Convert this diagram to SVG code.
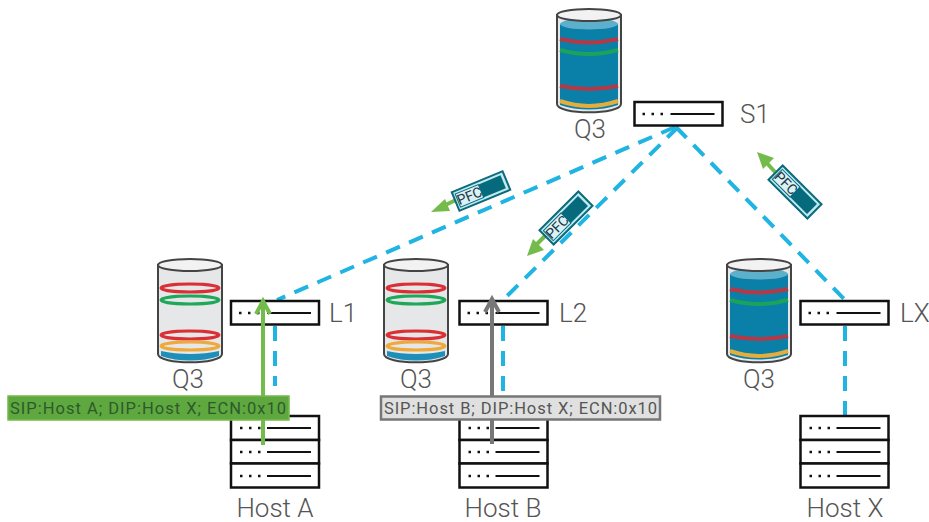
<svg xmlns="http://www.w3.org/2000/svg" width="929" height="522" viewBox="0 0 929 522">
<style>
text{font-family:Roboto,"Liberation Sans",sans-serif;font-weight:300;fill:#555}
.lab{font-size:26px}
.sw{fill:#fff;stroke:#111;stroke-width:2.5}
.ln{fill:none;stroke:#111;stroke-width:2}
.dots{fill:none;stroke:#111;stroke-width:2.5;stroke-dasharray:2.5 6.5}
.dash{fill:none;stroke:#1fb4e2;stroke-width:4;stroke-dasharray:15 10}
.cyl{fill:#e6e7e9;stroke:#444;stroke-width:2}
.top{fill:#f2f2f2;stroke:#444;stroke-width:2}
.o{fill:none;stroke-width:3}
.r{stroke:#d92f35}.g{stroke:#1fa85a}.y{stroke:#efa93a}
.fr{stroke:#b23a48;stroke-width:4;fill:none}.fg{stroke:#1aa35a;stroke-width:4;fill:none}.fy{stroke:#e5ad3c;stroke-width:4;fill:none}
.pfcb{fill:#bfeaf0;stroke:#0b6a7c;stroke-width:2}
.pfcd{fill:#056a7c}
.pfci{fill:#d8f2f5;stroke:#0b6a7c;stroke-width:1}
.pfct{font-size:14px;fill:#234;font-weight:400}
.garrow{fill:none;stroke:#73bb4a;stroke-width:4}
.gh{fill:#73bb4a}
.tag{font-size:16.5px;font-weight:400}
</style>
<defs>
<g id="switch">
<rect class="sw" width="88" height="23.5"/>
<path class="dots" d="M8 12H30"/>
<path class="ln" d="M36 12H80"/>
</g>
<g id="cylEmpty">
<path class="cyl" d="M0 6V95C0 106 64 106 64 95V6Z"/>
<path d="M3 92C20 96 44 96 61 92V97C44 103 20 103 3 97Z" fill="#1d8fb8"/>
<ellipse class="top" cx="32" cy="6" rx="32" ry="6"/>
<ellipse class="o r" cx="32" cy="29" rx="29" ry="4"/>
<ellipse class="o g" cx="32" cy="41" rx="29" ry="4"/>
<ellipse class="o r" cx="32" cy="76" rx="29" ry="4"/>
<ellipse class="o y" cx="32" cy="87" rx="29" ry="4"/>
</g>
<g id="cylFull">
<path class="cyl" d="M0 6V95C0 106 64 106 64 95V6Z" fill="#eef"/>
<path d="M3 15C20 20 44 20 61 15V96C44 102 20 102 3 96Z" fill="#0a7fa8"/>
<ellipse cx="32" cy="15" rx="29" ry="5.500" fill="#5cb0cc"/>
<ellipse class="top" cx="32" cy="6" rx="32" ry="6"/>
<path class="fr" d="M3 30Q32 37 61 30"/>
<path class="fg" d="M3 41Q32 49 61 41"/>
<path class="fr" d="M3 77Q32 83 61 77"/>
<path class="fy" d="M3 92Q32 102 61 92"/>
</g>
<g id="host">
<rect class="sw" width="88" height="24"/>
<rect class="sw" y="24" width="88" height="23.500"/>
<rect class="sw" y="47.500" width="88" height="24"/>
<path class="dots" d="M9 12H30M9 36H30M9 60H30"/>
<path class="ln" d="M36 12H80M36 36H80M36 60H80"/>
</g>
<g id="pfc">
<rect class="pfcb" x="-27.500" y="-10" width="55" height="20"/>
<rect class="pfcd" x="-1" y="-7" width="25" height="14"/>
<rect class="pfci" x="-25" y="-7" width="25" height="14"/>
<text class="pfct" x="-12.500" y="5" text-anchor="middle">PFC</text>
</g>
</defs>

<g id="connectors">
<path class="dash" d="M675 127L277 300"/>
<path class="dash" d="M678 127L503 300"/>
<path class="dash" d="M676 127L845 300"/>
<path class="dash" d="M275 326V386"/>
<path class="dash" d="M503 326V396"/>
<path class="dash" d="M845 326V416"/>
</g>

<g id="node-s1">
<use href="#cylFull" x="557" y="9"/>
<use href="#switch" x="634.500" y="102"/>
<text class="lab" x="590" y="138" text-anchor="middle">Q3</text>
<text class="lab" x="740" y="123">S1</text>
</g>
<g id="node-l1">
<use href="#cylEmpty" x="158" y="259"/>
<use href="#switch" x="231" y="301"/>
<text class="lab" x="188" y="388" text-anchor="middle">Q3</text>
<text class="lab" x="329" y="322">L1</text>
</g>
<g id="node-l2">
<use href="#cylEmpty" x="384" y="259"/>
<use href="#switch" x="459.500" y="301"/>
<text class="lab" x="416" y="388" text-anchor="middle">Q3</text>
<text class="lab" x="559" y="322">L2</text>
</g>
<g id="node-lx">
<use href="#cylFull" x="727" y="259"/>
<use href="#switch" x="800.500" y="301"/>
<text class="lab" x="759" y="388" text-anchor="middle">Q3</text>
<text class="lab" x="900" y="322">LX</text>
</g>
<g id="node-host-a">
<use href="#host" x="231" y="416"/>
<text class="lab" x="275" y="516.500" text-anchor="middle">Host A</text>
</g>
<g id="node-host-b">
<use href="#host" x="459.500" y="416"/>
<text class="lab" x="503" y="516.500" text-anchor="middle">Host B</text>
</g>
<g id="node-host-x">
<use href="#host" x="800.500" y="416"/>
<text class="lab" x="845" y="516.500" text-anchor="middle">Host X</text>
</g>

<g id="pfc-1">
<path class="garrow" d="M456 200L441 207"/><path class="gh" d="M431 212L445 199L450 211Z"/>
<use href="#pfc" transform="translate(481 191) rotate(-22.500)"/>
</g>
<g id="pfc-2">
<path class="garrow" d="M546 235L535 246"/><path class="gh" d="M527 256L533 239L544 250Z"/>
<use href="#pfc" transform="translate(566 218) rotate(-45)"/>
</g>
<g id="pfc-3">
<path class="garrow" d="M775 172L765 161"/><path class="gh" d="M757 152L774 158L763 169Z"/>
<use href="#pfc" transform="translate(795 192) rotate(45)"/>
</g>

<g id="flow-a">
<path d="M263 445V304" fill="none" stroke="#73bb4a" stroke-width="4"/>
<path d="M256 314L263 301L270 314" fill="none" stroke="#73bb4a" stroke-width="4"/>
<rect x="8" y="396" width="281" height="24" fill="#5fa83f" stroke="#73bb4a" stroke-width="1.500"/>
<text class="tag" x="148" y="413.500" text-anchor="middle" textLength="276" style="fill:#2d5a2c">SIP:Host A; DIP:Host X; ECN:0x10</text>
</g>
<g id="flow-b">
<path d="M492 444V301" fill="none" stroke="#777" stroke-width="4"/>
<path d="M485 312L492 299L499 312" fill="none" stroke="#777" stroke-width="4"/>
<rect x="381" y="396.500" width="279" height="23" fill="#e0e0e0" stroke="#777" stroke-width="2.500"/>
<text class="tag" x="520.500" y="413.500" text-anchor="middle" textLength="273">SIP:Host B; DIP:Host X; ECN:0x10</text>
</g>
</svg>
